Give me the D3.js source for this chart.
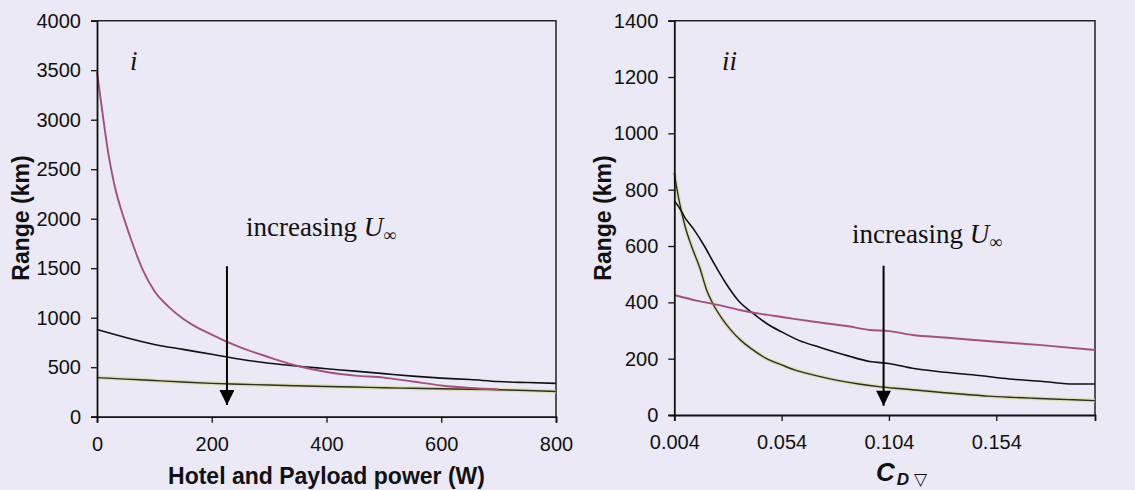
<!DOCTYPE html>
<html>
<head>
<meta charset="utf-8">
<script src="https://cdn.jsdelivr.net/npm/d3@7/dist/d3.min.js"></script>
<style>
  body { margin: 0; background: #eae9f5; }
  svg { display: block; }
  .tick text { font-family: "Liberation Sans", Arial, sans-serif; font-size: 20px; fill: #111; }
  .title { font-family: "Liberation Sans", Arial, sans-serif; font-weight: bold; font-size: 23px; fill: #111; }
  .note { font-family: "Liberation Serif", "Times New Roman", serif; fill: #111; }
</style>
</head>
<body>
<script>
// Panel i : range vs hotel and payload power
var powerLow = [0, 10, 20, 30, 50, 60, 80, 100, 125, 150, 175, 200, 225, 250, 300, 350, 400, 450, 500, 550, 600, 650, 700];
var rangeLowU = [3480, 3050, 2650, 2350, 1950, 1780, 1480, 1270, 1110, 990, 900, 830, 760, 700, 600, 512, 452, 415, 395, 355, 315, 290, 275];
var power = [0, 50, 100, 150, 200, 250, 300, 350, 400, 450, 500, 550, 600, 650, 700, 750, 800];
var rangeMidU = [880, 800, 730, 680, 630, 580, 540, 510, 485, 460, 435, 410, 390, 375, 355, 345, 337];
var rangeHighU = [395, 380, 365, 350, 337, 328, 320, 312, 305, 300, 292, 287, 282, 278, 272, 265, 255];
var powerTicks = [0, 200, 400, 600, 800];
var rangeTicksI = [0, 500, 1000, 1500, 2000, 2500, 3000, 3500, 4000];

// Panel ii : range vs drag coefficient
var cdLow = [0.004, 0.015, 0.025, 0.035, 0.045, 0.054, 0.07, 0.085, 0.095, 0.104, 0.115, 0.13, 0.154, 0.175, 0.2];
var rangeCdLow = [426, 405, 390, 372, 358, 348, 330, 315, 302, 298, 284, 275, 260, 248, 231];
var cdMid = [0.004, 0.006, 0.009, 0.013, 0.018, 0.022, 0.028, 0.034, 0.04, 0.047, 0.054, 0.062, 0.072, 0.085, 0.095, 0.104, 0.115, 0.13, 0.146, 0.16, 0.177, 0.19, 0.2];
var rangeCdMid = [760, 740, 700, 660, 600, 545, 468, 405, 365, 325, 295, 265, 240, 210, 190, 183, 166, 152, 140, 128, 118, 110, 110];
var cdHigh = [0.004, 0.006, 0.009, 0.012, 0.016, 0.019, 0.022, 0.026, 0.03, 0.035, 0.04, 0.047, 0.054, 0.06, 0.07, 0.08, 0.09, 0.1, 0.11, 0.12, 0.13, 0.14, 0.15, 0.16, 0.17, 0.18, 0.19, 0.2];
var rangeCdHigh = [860, 770, 670, 600, 520, 445, 395, 345, 305, 265, 235, 200, 178, 160, 140, 123, 110, 100, 93, 86, 79, 73, 67, 63, 60, 57, 54, 51];
var cdTicks = [0.004, 0.054, 0.104, 0.154];
var rangeTicksII = [0, 200, 400, 600, 800, 1000, 1200, 1400];

var svg = d3.select("body").append("svg").attr("width", 1135).attr("height", 490);

svg.append("defs").append("marker")
    .attr("id", "head")
    .attr("viewBox", "0 0 10 10")
    .attr("refX", 10).attr("refY", 5)
    .attr("markerWidth", 16).attr("markerHeight", 15)
    .attr("markerUnits", "userSpaceOnUse")
    .attr("orient", "auto")
    .append("path").attr("d", "M0,0 L10,5 L0,10 Z").attr("fill", "#000");

function zip(xs, ys){
    return xs.map(function(v, i){ return [v, ys[i]]; });
}

function drawPanel(p){
    var x = d3.scaleLinear().domain(p.xDomain).range([p.left, p.right]);
    var y = d3.scaleLinear().domain(p.yDomain).range([p.bottom, p.top]);
    var g = svg.append("g");

    // box
    g.append("path")
        .attr("d", "M" + p.left + "," + p.top + "H" + p.right + "V" + p.bottom)
        .attr("fill", "none").attr("stroke", "#222").attr("stroke-width", 1.5);

    var line = d3.line()
        .x(function(d){ return x(d[0]); })
        .y(function(d){ return y(d[1]); })
        .curve(d3.curveMonotoneX);

    p.series.forEach(function(s){
        if (s.halo) {
            g.append("path").attr("d", line(s.data)).attr("fill", "none")
                .attr("stroke", s.halo).attr("stroke-width", 4).attr("stroke-opacity", 0.7);
        }
        g.append("path").attr("d", line(s.data)).attr("fill", "none")
            .attr("stroke", s.color).attr("stroke-width", s.width);
    });

    var xAxis = g.append("g")
        .attr("transform", "translate(0," + p.bottom + ")")
        .call(d3.axisBottom(x).tickValues(p.xTicks).tickSize(6).tickPadding(14).tickFormat(p.xFormat));
    var yAxis = g.append("g")
        .attr("transform", "translate(" + p.left + ",0)")
        .call(d3.axisLeft(y).tickValues(p.yTicks).tickSize(6).tickPadding(10).tickFormat(d3.format("d")));
    [xAxis, yAxis].forEach(function(a){
        a.select(".domain").attr("stroke", "#111").attr("stroke-width", 1.8);
        a.selectAll(".tick line").attr("stroke", "#111").attr("stroke-width", 1.3);
    });

    // y title
    g.append("text").attr("class", "title")
        .attr("transform", "translate(" + p.yTitleX + ",218) rotate(-90)")
        .attr("text-anchor", "middle")
        .text("Range (km)");

    // panel number
    g.append("text").attr("class", "note")
        .attr("x", p.tagX).attr("y", 70)
        .style("font-style", "italic").style("font-size", "27px")
        .text(p.tag);

    // note
    var t = g.append("text").attr("class", "note")
        .attr("x", p.noteX).attr("y", p.noteY)
        .style("font-size", "27px");
    t.append("tspan").text("increasing ");
    t.append("tspan").style("font-style", "italic").text("U");
    t.append("tspan").attr("dy", 5).style("font-size", "18px").text("\u221e");

    // arrow
    g.append("line")
        .attr("x1", x(p.arrow[0])).attr("x2", x(p.arrow[0]))
        .attr("y1", y(p.arrow[1])).attr("y2", y(p.arrow[2]))
        .attr("stroke", "#000").attr("stroke-width", 2)
        .attr("marker-end", "url(#head)");

    return {x: x, y: y, g: g};
}

var colPink = "#a4507e", colBlack = "#111", colOlive = "#2e2e22";

var left = drawPanel({
    left: 97, right: 556, top: 20.7, bottom: 416.7,
    xDomain: [0, 800], yDomain: [0, 4000],
    xTicks: powerTicks, yTicks: rangeTicksI, xFormat: d3.format("d"),
    yTitleX: 29, tag: "i", tagX: 130,
    noteX: 246, noteY: 236, arrow: [226.5, 1520, 118],
    series: [
        {data: zip(power, rangeHighU), color: colOlive, width: 1.4, halo: "#d9da9c"},
        {data: zip(power, rangeMidU), color: colBlack, width: 1.6},
        {data: zip(powerLow, rangeLowU), color: colPink, width: 1.9}
    ]
});
left.g.append("text").attr("class", "title")
    .attr("x", 326.5).attr("y", 484).attr("text-anchor", "middle")
    .text("Hotel and Payload power (W)");

var right = drawPanel({
    left: 674.3, right: 1095, top: 20.7, bottom: 415,
    xDomain: [0.004, 0.2], yDomain: [0, 1400],
    xTicks: cdTicks, yTicks: rangeTicksII, xFormat: d3.format(".3f"),
    yTitleX: 611, tag: "ii", tagX: 722,
    noteX: 852, noteY: 243, arrow: [0.1015, 530, 33],
    series: [
        {data: zip(cdHigh, rangeCdHigh), color: colOlive, width: 1.4, halo: "#d9da9c"},
        {data: zip(cdMid, rangeCdMid), color: colBlack, width: 1.6},
        {data: zip(cdLow, rangeCdLow), color: colPink, width: 1.9}
    ]
});
var cd = right.g.append("text").attr("class", "title")
    .attr("x", 876).attr("y", 481)
    .style("font-style", "italic");
cd.append("tspan").style("font-size", "26px").text("C");
cd.append("tspan").attr("dy", 4).attr("dx", 2).style("font-size", "17px").text("D ");
cd.append("tspan").style("font-size", "17px").style("font-weight", "normal").style("font-style", "normal").text("\u25bd");
</script>
</body>
</html>
